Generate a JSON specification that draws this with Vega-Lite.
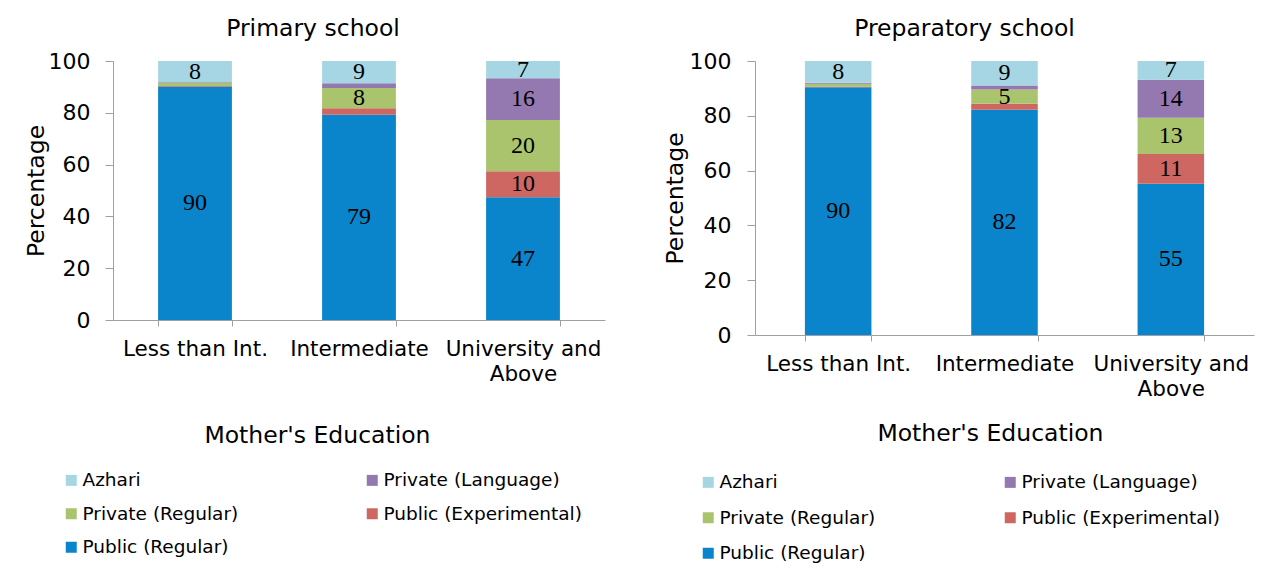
{
  "$schema": "https://vega.github.io/schema/vega-lite/v6.json",
  "autosize": "none",
  "padding": {"left": 113, "top": 61, "right": 1168, "bottom": 516},
  "background": "white",
  "spacing": 150,
  "bounds": "flush",
  "datasets": {
    "d": [
      {"school": "Primary", "edu": "Less than Int.", "type": "Public (Regular)", "value": 90.1},
      {"school": "Primary", "edu": "Less than Int.", "type": "Public (Experimental)", "value": 0.2},
      {"school": "Primary", "edu": "Less than Int.", "type": "Private (Regular)", "value": 1.2},
      {"school": "Primary", "edu": "Less than Int.", "type": "Private (Language)", "value": 0.3},
      {"school": "Primary", "edu": "Less than Int.", "type": "Azhari", "value": 8.2},
      {"school": "Primary", "edu": "Intermediate", "type": "Public (Regular)", "value": 79.2},
      {"school": "Primary", "edu": "Intermediate", "type": "Public (Experimental)", "value": 2.6},
      {"school": "Primary", "edu": "Intermediate", "type": "Private (Regular)", "value": 7.8},
      {"school": "Primary", "edu": "Intermediate", "type": "Private (Language)", "value": 1.8},
      {"school": "Primary", "edu": "Intermediate", "type": "Azhari", "value": 8.6},
      {"school": "Primary", "edu": "University and Above", "type": "Public (Regular)", "value": 47.4},
      {"school": "Primary", "edu": "University and Above", "type": "Public (Experimental)", "value": 10.0},
      {"school": "Primary", "edu": "University and Above", "type": "Private (Regular)", "value": 19.8},
      {"school": "Primary", "edu": "University and Above", "type": "Private (Language)", "value": 16.1},
      {"school": "Primary", "edu": "University and Above", "type": "Azhari", "value": 6.7},
      {"school": "Preparatory", "edu": "Less than Int.", "type": "Public (Regular)", "value": 90.4},
      {"school": "Preparatory", "edu": "Less than Int.", "type": "Public (Experimental)", "value": 0.3},
      {"school": "Preparatory", "edu": "Less than Int.", "type": "Private (Regular)", "value": 1.0},
      {"school": "Preparatory", "edu": "Less than Int.", "type": "Private (Language)", "value": 0.4},
      {"school": "Preparatory", "edu": "Less than Int.", "type": "Azhari", "value": 7.9},
      {"school": "Preparatory", "edu": "Intermediate", "type": "Public (Regular)", "value": 82.2},
      {"school": "Preparatory", "edu": "Intermediate", "type": "Public (Experimental)", "value": 2.2},
      {"school": "Preparatory", "edu": "Intermediate", "type": "Private (Regular)", "value": 5.2},
      {"school": "Preparatory", "edu": "Intermediate", "type": "Private (Language)", "value": 1.5},
      {"school": "Preparatory", "edu": "Intermediate", "type": "Azhari", "value": 8.9},
      {"school": "Preparatory", "edu": "University and Above", "type": "Public (Regular)", "value": 55.2},
      {"school": "Preparatory", "edu": "University and Above", "type": "Public (Experimental)", "value": 10.9},
      {"school": "Preparatory", "edu": "University and Above", "type": "Private (Regular)", "value": 13.2},
      {"school": "Preparatory", "edu": "University and Above", "type": "Private (Language)", "value": 13.9},
      {"school": "Preparatory", "edu": "University and Above", "type": "Azhari", "value": 6.8}
    ]
  },
  "config": {
    "font": "DejaVu Sans",
    "view": {"stroke": null},
    "axis": {
      "domainColor": "#A0A0A0",
      "tickColor": "#A0A0A0",
      "labelColor": "#000000",
      "titleColor": "#000000",
      "labelFont": "DejaVu Sans",
      "titleFont": "DejaVu Sans",
      "labelFontSize": 21.5,
      "titleFontSize": 23.5,
      "titleFontWeight": "normal",
      "grid": false
    },
    "title": {"font": "DejaVu Sans", "fontSize": 23.5, "fontWeight": "normal", "color": "#000000"},
    "legend": {
      "orient": "none",
      "direction": "horizontal",
      "columns": 2,
      "symbolType": "square",
      "symbolSize": 121,
      "symbolStrokeWidth": 0,
      "labelFont": "DejaVu Sans",
      "labelFontSize": 18.5,
      "labelColor": "#000000",
      "labelOffset": 2,
      "padding": 0,
      "labelLimit": 0
    }
  },
  "resolve": {"scale": {"color": "independent", "x": "independent", "y": "independent"}, "legend": {"color": "independent"}},
  "hconcat": [
    {
      "width": 492,
      "height": 259,
      "data": {"name": "d"},
      "title": {"text": "Primary school", "dx": -46, "offset": -9, "baseline": "alphabetic", "frame": "group"},
      "transform": [
        {"filter": "datum.school == 'Primary'"},
        {"stack": "value", "groupby": ["edu"], "sort": [{"field": "type", "order": "descending"}], "as": ["v0", "v1"]},
        {"calculate": "(datum.v0 + datum.v1) / 2", "as": "mid"}
      ],
      "encoding": {
        "x": {
          "field": "edu", "type": "nominal",
          "sort": ["Less than Int.", "Intermediate", "University and Above"],
          "scale": {"paddingInner": 0.55, "paddingOuter": 0.275},
          "axis": {
            "title": "Mother's Education", "titleX": 204, "titleY": 115, "titleBaseline": "middle",
            "tickBand": "extent", "tickSize": 6, "labelPadding": 12, "labelAngle": 0,
            "labelLineHeight": 25, "labelLimit": 0,
            "labelExpr": "datum.value == 'University and Above' ? ['University and', 'Above'] : datum.value"
          }
        }
      },
      "layer": [
        {
          "mark": {"type": "bar"},
          "encoding": {
            "y": {
              "field": "v0", "type": "quantitative",
              "scale": {"domain": [0, 100]},
              "axis": {"title": "Percentage", "values": [0, 20, 40, 60, 80, 100], "labelFontSize": 22, "tickSize": 8, "labelPadding": 15, "titleX": -77, "titleY": 129.5, "titleBaseline": "middle"}
            },
            "y2": {"field": "v1"},
            "color": {
              "field": "type", "type": "nominal",
              "scale": {
                "domain": ["Azhari", "Private (Language)", "Private (Regular)", "Public (Experimental)", "Public (Regular)"],
                "range": ["#A6D6E3", "#9479B0", "#AAC46E", "#CE6762", "#0A84CA"]
              },
              "legend": {"title": null, "legendX": -51, "legendY": 410, "columnPadding": 124, "rowPadding": 14.5}
            }
          }
        },
        {
          "transform": [{"filter": "datum.value >= 4.5"}],
          "mark": {"type": "text", "font": "Liberation Serif", "fontSize": 24, "baseline": "middle", "color": "#000000"},
          "encoding": {
            "y": {
              "field": "mid", "type": "quantitative",
              "axis": {"title": "Percentage", "values": [0, 20, 40, 60, 80, 100], "labelFontSize": 22, "tickSize": 8, "labelPadding": 15, "titleX": -77, "titleY": 129.5, "titleBaseline": "middle"}
            },
            "text": {"field": "value", "type": "quantitative", "format": ".0f"}
          }
        }
      ]
    },
    {
      "width": 499,
      "height": 274,
      "data": {"name": "d"},
      "title": {"text": "Preparatory school", "dx": -40, "offset": -9, "baseline": "alphabetic", "frame": "group"},
      "transform": [
        {"filter": "datum.school == 'Preparatory'"},
        {"stack": "value", "groupby": ["edu"], "sort": [{"field": "type", "order": "descending"}], "as": ["v0", "v1"]},
        {"calculate": "(datum.v0 + datum.v1) / 2", "as": "mid"}
      ],
      "encoding": {
        "x": {
          "field": "edu", "type": "nominal",
          "sort": ["Less than Int.", "Intermediate", "University and Above"],
          "scale": {"paddingInner": 0.6, "paddingOuter": 0.3},
          "axis": {
            "title": "Mother's Education", "titleX": 235, "titleY": 98, "titleBaseline": "middle",
            "tickBand": "extent", "tickSize": 6, "labelPadding": 12, "labelAngle": 0,
            "labelLineHeight": 25, "labelLimit": 0,
            "labelExpr": "datum.value == 'University and Above' ? ['University and', 'Above'] : datum.value"
          }
        }
      },
      "layer": [
        {
          "mark": {"type": "bar"},
          "encoding": {
            "y": {
              "field": "v0", "type": "quantitative",
              "scale": {"domain": [0, 100]},
              "axis": {"title": "Percentage", "values": [0, 20, 40, 60, 80, 100], "labelFontSize": 22, "tickSize": 8, "labelPadding": 16, "titleX": -80, "titleY": 137, "titleBaseline": "middle"}
            },
            "y2": {"field": "v1"},
            "color": {
              "field": "type", "type": "nominal",
              "scale": {
                "domain": ["Azhari", "Private (Language)", "Private (Regular)", "Public (Experimental)", "Public (Regular)"],
                "range": ["#A6D6E3", "#9479B0", "#AAC46E", "#CE6762", "#0A84CA"]
              },
              "legend": {"title": null, "legendX": -56, "legendY": 412, "columnPadding": 125, "rowPadding": 16.5}
            }
          }
        },
        {
          "transform": [{"filter": "datum.value >= 4.5"}],
          "mark": {"type": "text", "font": "Liberation Serif", "fontSize": 24, "baseline": "middle", "color": "#000000"},
          "encoding": {
            "y": {
              "field": "mid", "type": "quantitative",
              "axis": {"title": "Percentage", "values": [0, 20, 40, 60, 80, 100], "labelFontSize": 22, "tickSize": 8, "labelPadding": 16, "titleX": -80, "titleY": 137, "titleBaseline": "middle"}
            },
            "text": {"field": "value", "type": "quantitative", "format": ".0f"}
          }
        }
      ]
    }
  ]
}
